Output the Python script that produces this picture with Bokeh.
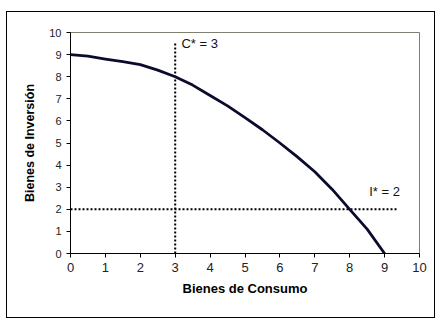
from bokeh.plotting import figure
from bokeh.models import FixedTicker, Range1d
from bokeh.core.properties import value
from bokeh.embed import file_html
from bokeh.resources import INLINE

# Data
consumo = [0, 0.5, 1, 1.5, 2, 2.5, 3, 3.5, 4, 4.5, 5, 5.5, 6, 6.5, 7, 7.5, 8, 8.5, 9]
inversion = [9.0, 8.93, 8.8, 8.68, 8.55, 8.3, 8.0, 7.62, 7.15, 6.68, 6.15, 5.6, 5.0, 4.37, 3.7, 2.9, 2.0, 1.1, 0.0]
c_star = 3
i_star = 2
c_line_top = 9.5
i_line_right = 9.35
labels = ["C* = 3", "I* = 2"]
label_x = [3.18, 8.56]
label_y = [9.48, 2.82]
ticks = list(range(0, 11))

p = figure(width=429, height=307, output_backend="svg", toolbar_location=None,
           x_range=Range1d(0, 10), y_range=Range1d(0, 10),
           min_border_left=63, min_border_right=17, min_border_top=20, min_border_bottom=66)
p.styles = {"border": "1px solid black", "margin-left": "6px", "margin-top": "11px"}
p.xgrid.visible = False
p.ygrid.visible = False
p.background_fill_color = "white"
p.border_fill_color = "white"
p.outline_line_color = "#7f7f70"
p.outline_line_width = 1

for ax in (p.xaxis, p.yaxis):
    ax.ticker = FixedTicker(ticks=ticks)
    ax.minor_tick_line_color = None
    ax.axis_line_color = "black"
    ax.major_tick_line_color = "black"
    ax.major_tick_out = 4
    ax.major_tick_in = 0
    ax.major_label_text_font = "Liberation Sans"
    ax.major_label_text_color = "#222222"
    ax.axis_label_text_font = "Liberation Sans"
    ax.axis_label_text_font_style = "bold"
    ax.axis_label_text_color = "black"

p.xaxis.major_label_text_font_size = "13px"
p.yaxis.major_label_text_font_size = "11px"
p.xaxis.axis_label = "Bienes de Consumo"
p.yaxis.axis_label = "Bienes de Inversión"
p.xaxis.axis_label_text_font_size = "13px"
p.yaxis.axis_label_text_font_size = "12.5px"
p.xaxis.major_label_standoff = 5
p.xaxis.axis_label_standoff = 6
p.yaxis.major_label_standoff = 5
p.yaxis.axis_label_standoff = 9

# reference lines
p.line([c_star, c_star], [0, c_line_top], line_color="black", line_width=2, line_dash="2 2")
p.line([0, i_line_right], [i_star, i_star], line_color="black", line_width=2, line_dash="2 2")

# curve
p.line(consumo, inversion, line_color="#0b0b2e", line_width=2.8, line_join="round")

p.text(x=label_x, y=label_y, text=labels, text_font=value("Liberation Sans"),
       text_font_size="13px", text_baseline="middle", text_align="left", text_color="#111111")

open("out.html", "w").write(file_html(p, INLINE))
